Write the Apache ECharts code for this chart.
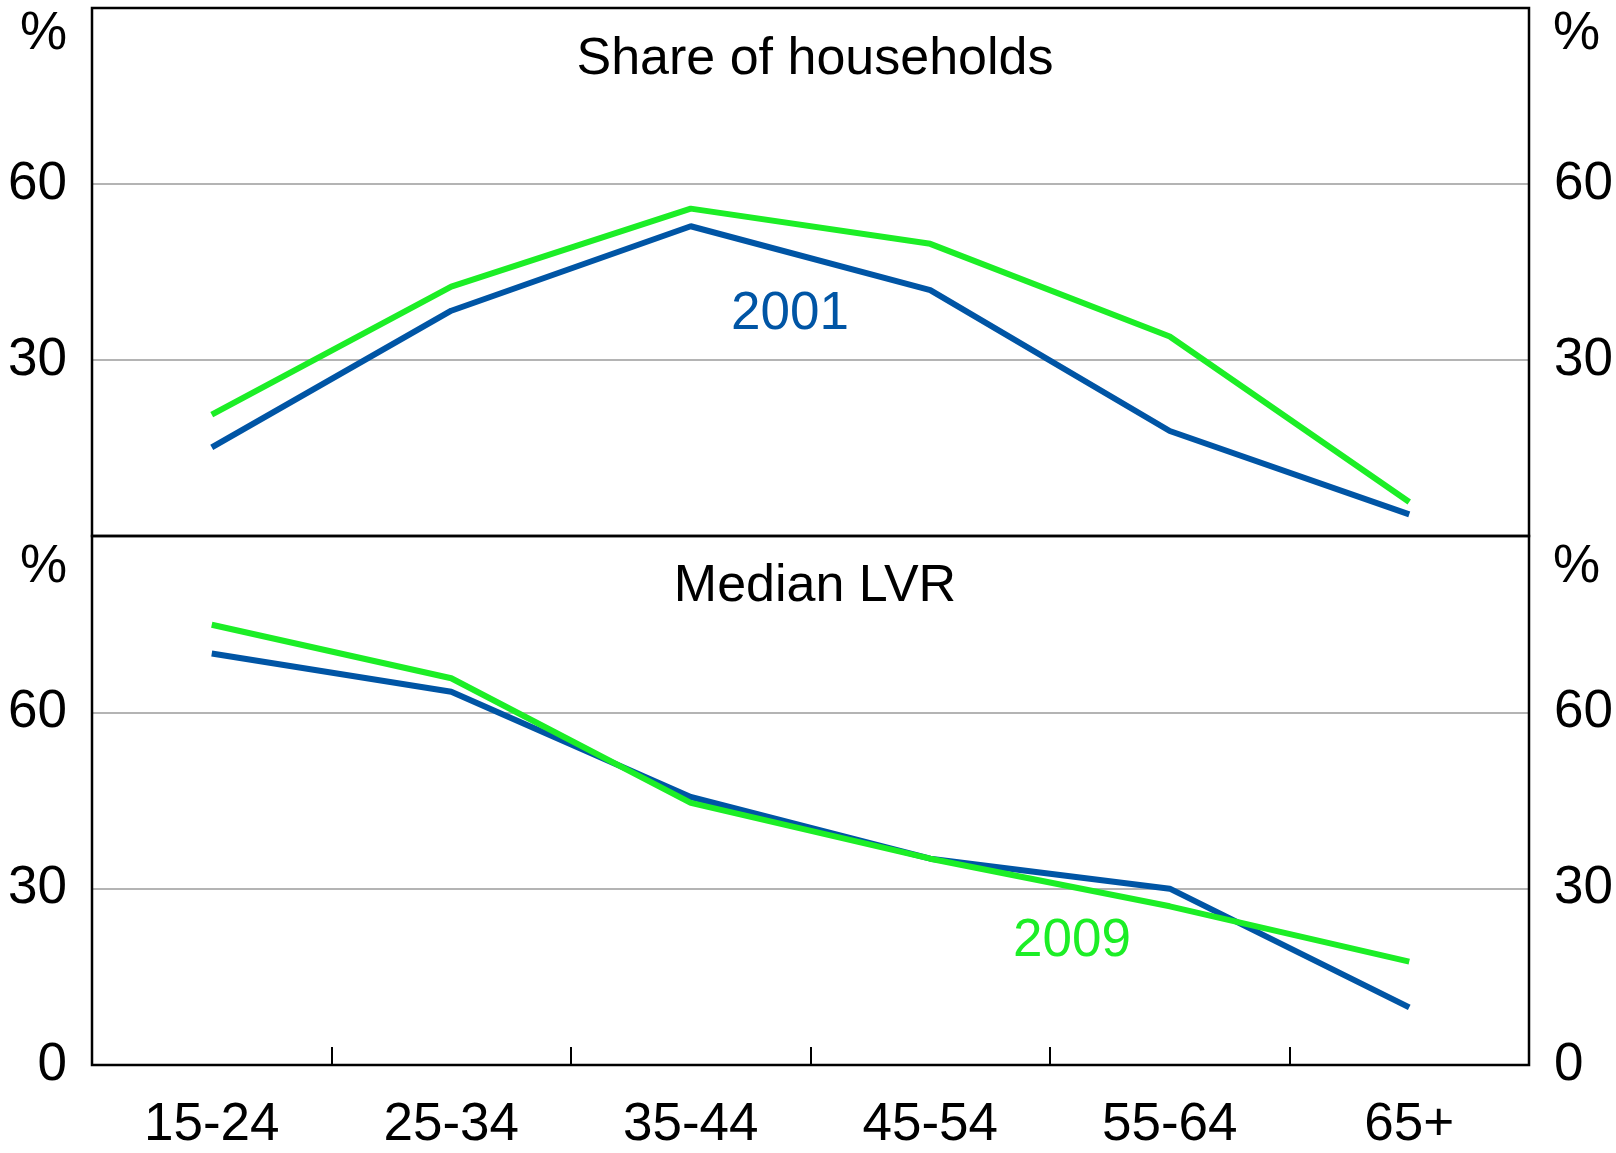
<!DOCTYPE html>
<html>
<head>
<meta charset="utf-8">
<script src="https://cdn.jsdelivr.net/npm/echarts@6/dist/echarts.min.js"></script>
<style>
  html, body { margin: 0; padding: 0; background: #fff; }
  #chart { width: 1616px; height: 1153px; }
</style>
</head>
<body>
<div id="chart"></div>
<script>
var ageGroups = ['15-24', '25-34', '35-44', '45-54', '55-64', '65+'];
// share of households, per cent
var share2001 = [15.1, 38.4, 52.8, 41.9, 17.9, 3.7];
var share2009 = [20.7, 42.5, 55.8, 49.8, 34.0, 5.8];
// median LVR, per cent
var lvr2001 = [70.0, 63.5, 45.6, 35.1, 30.0, 9.8];
var lvr2009 = [74.9, 65.8, 44.6, 35.1, 27.0, 17.6];
var yTicks = [0, 30, 60, 90];

var blue = '#0055A5';
var green = '#1CEE26';
var font = 'Liberation Sans, Arial, sans-serif';

var myChart = echarts.init(document.getElementById('chart'));

function yAx(grid, pos, hideZero) {
    return {
        type: 'value', gridIndex: grid, position: pos,
        min: yTicks[0], max: yTicks[yTicks.length - 1], interval: 30,
        axisLine: { show: false }, axisTick: { show: false },
        splitLine: { show: pos == 'left', showMinLine: false, showMaxLine: false,
                     lineStyle: { color: '#B4B4B4', width: 2 } },
        axisLabel: {
            margin: 25, color: '#000', fontSize: 53, fontFamily: font,
            formatter: function (v) {
                if (v == 90) return '';
                if (v == 0 && hideZero) return '';
                return v;
            }
        }
    };
}

function pct(x, y, align) {
    return {
        type: 'text', left: x, top: y,
        style: { text: '%', fontSize: 53, fontFamily: font, fill: '#000', textAlign: align }
    };
}

var option = {
    animation: false,
    grid: [
        { left: 92, right: 87, top: 8, height: 528, show: true, borderColor: '#000', borderWidth: 2.5, z: 5 },
        { left: 92, right: 87, top: 536, height: 529, show: true, borderColor: '#000', borderWidth: 2.5, z: 5 }
    ],
    title: [
        { text: 'Share of households', left: 810, top: 29, textAlign: 'center',
          textStyle: { fontSize: 52, fontWeight: 'normal', fontFamily: font, color: '#000' } },
        { text: 'Median LVR', left: 810, top: 556, textAlign: 'center',
          textStyle: { fontSize: 52, fontWeight: 'normal', fontFamily: font, color: '#000' } }
    ],
    xAxis: [
        { type: 'category', gridIndex: 0, data: ageGroups, boundaryGap: true,
          axisLine: { show: false }, axisTick: { show: false }, axisLabel: { show: false } },
        { type: 'category', gridIndex: 1, data: ageGroups, boundaryGap: true,
          axisLine: { show: false },
          axisTick: { show: true, inside: true, length: 18, lineStyle: { color: '#000', width: 2 } },
          axisLabel: { margin: 34, color: '#000', fontSize: 53, fontFamily: font } }
    ],
    yAxis: [
        yAx(0, 'left', true), yAx(0, 'right', true),
        yAx(1, 'left', false), yAx(1, 'right', false)
    ],
    series: [
        { name: '2001', type: 'line', xAxisIndex: 0, yAxisIndex: 0, data: share2001,
          symbol: 'none', lineStyle: { color: blue, width: 6 } },
        { name: '2009', type: 'line', xAxisIndex: 0, yAxisIndex: 0, data: share2009,
          symbol: 'none', lineStyle: { color: green, width: 6 } },
        { name: '2001', type: 'line', xAxisIndex: 1, yAxisIndex: 2, data: lvr2001,
          symbol: 'none', lineStyle: { color: blue, width: 6 } },
        { name: '2009', type: 'line', xAxisIndex: 1, yAxisIndex: 2, data: lvr2009,
          symbol: 'none', lineStyle: { color: green, width: 6 } }
    ],
    graphic: [
        pct(20, 8, 'left'), pct(1553, 8, 'left'),
        pct(20, 541, 'left'), pct(1553, 541, 'left'),
        { type: 'text', left: 731, top: 288,
          style: { text: '2001', fontSize: 53, fontFamily: font, fill: blue } },
        { type: 'text', left: 1013, top: 915,
          style: { text: '2009', fontSize: 53, fontFamily: font, fill: green } }
    ]
};
myChart.setOption(option);
</script>
</body>
</html>
